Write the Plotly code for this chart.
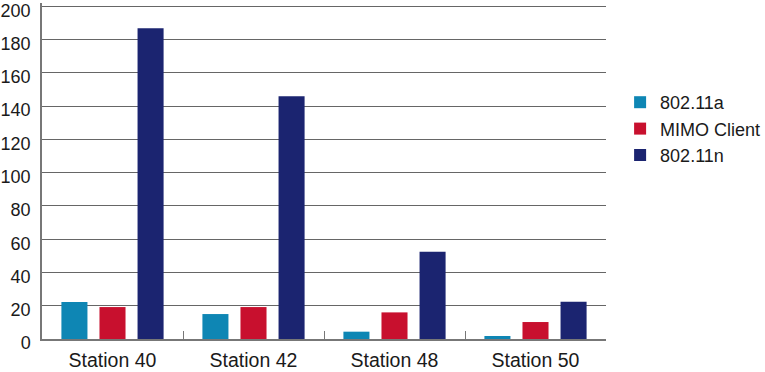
import plotly.graph_objects as go

categories = ["Station 40", "Station 42", "Station 48", "Station 50"]
series_names = ["802.11a", "MIMO Client", "802.11n"]
vals_a = [22.2, 15.0, 4.4, 1.8]
vals_mimo = [19.2, 19.2, 16.0, 10.2]
vals_n = [186.8, 146.0, 52.4, 22.4]
colors = ["#0E86B4", "#C8102E", "#1B2470"]
y_ticks = [0, 20, 40, 60, 80, 100, 120, 140, 160, 180, 200]

fig = go.Figure()
for name, vals, col in zip(series_names, [vals_a, vals_mimo, vals_n], colors):
    fig.add_trace(go.Bar(x=categories, y=vals, name=name, marker=dict(color=col, line=dict(width=0))))

font = "Liberation Sans, Arial, sans-serif"
fig.update_layout(
    width=765, height=372,
    margin=dict(l=42, r=159, t=3, b=33, autoexpand=False),
    paper_bgcolor="white", plot_bgcolor="white",
    barmode="group", bargap=0.19, bargroupgap=0.316,
    font=dict(family=font, size=18, color="#1a1a1a"),
    legend=dict(x=1.025, xanchor="left", y=0.625, yanchor="middle",
                font=dict(size=18, color="#1a1a1a"),
                itemwidth=30, bgcolor="rgba(0,0,0,0)"),
    showlegend=True,
)
fig.update_xaxes(
    showline=True, linecolor="#777", linewidth=1.5,
    ticks="inside", tickson="boundaries", ticklen=8, tickcolor="#777",
    showgrid=False, tickfont=dict(size=19.5), ticklabelstandoff=3,
)
fig.update_yaxes(
    range=[0, 202], tickvals=y_ticks, showgrid=True, gridcolor="#666", gridwidth=1,
    showline=True, linecolor="#777", linewidth=1.5, ticks="", ticklen=0, zeroline=False,
    tickfont=dict(size=18), ticklabelstandoff=6, ticklabelshift=4,
)
fig.write_html("out.html")
